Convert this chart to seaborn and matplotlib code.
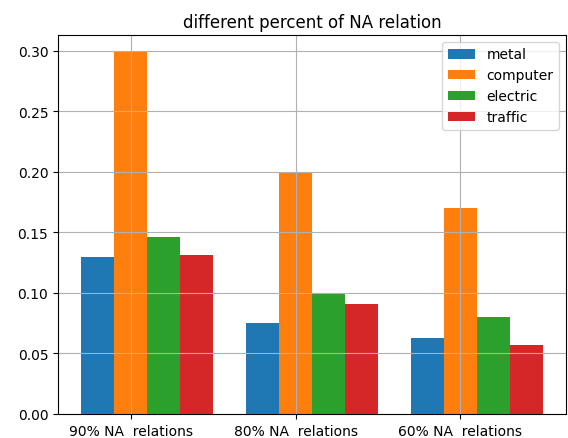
import pandas as pd
import matplotlib
matplotlib.use("Agg")
import matplotlib.pyplot as plt
import seaborn as sns

groups = ["90% NA  relations", "80% NA  relations", "60% NA  relations"]
metal = [0.130, 0.075, 0.063]
computer = [0.300, 0.200, 0.170]
electric = [0.146, 0.100, 0.080]
traffic = [0.131, 0.091, 0.057]

series = {"metal": metal, "computer": computer, "electric": electric, "traffic": traffic}
rows = []
for name, vals in series.items():
    for g, v in zip(groups, vals):
        rows.append({"group": g, "kind": name, "value": v})
df = pd.DataFrame(rows)

fig = plt.figure(figsize=(5.68, 4.39), dpi=100)
ax = fig.add_axes([58 / 568, 24 / 439, 508 / 568, 379 / 439])

sns.barplot(data=df, x="group", y="value", hue="kind", palette="tab10",
            width=0.8, saturation=1, errorbar=None, ax=ax)

# ticks sit at the centre of the second bar of each group
ax.set_xticks([i - 0.1 for i in range(len(groups))])
ax.set_xticklabels(groups)
ax.set_xlim(-0.54, 2.54)
ax.set_ylim(0, 0.313)
ax.grid(True, color="#b0b0b0", linewidth=0.8)
ax.set_axisbelow("line")
ax.set_xlabel("")
ax.set_ylabel("")
ax.set_title("different percent of NA relation")
ax.legend(loc="upper right")

fig.savefig("out.png", dpi=100)
